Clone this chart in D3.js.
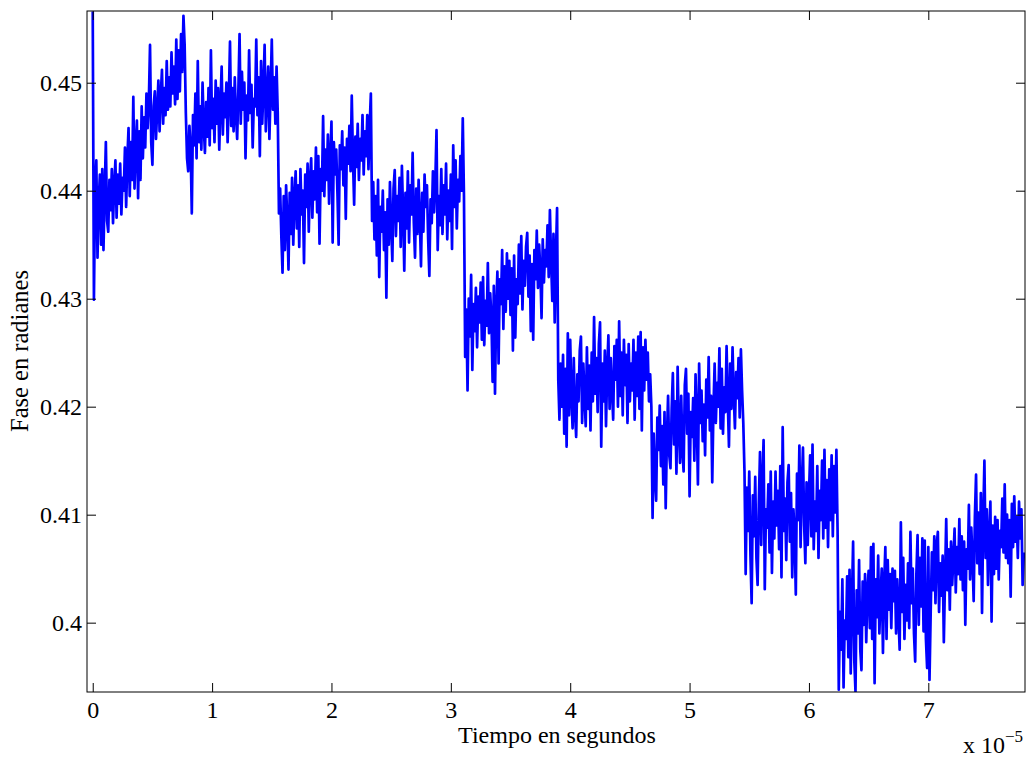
<!DOCTYPE html>
<html>
<head>
<meta charset="utf-8">
<script src="https://cdn.jsdelivr.net/npm/d3@7"></script>
<style>
  body { margin: 0; background: #fff; }
  text { font-family: "Liberation Serif", "Times New Roman", serif; fill: #000; }
</style>
</head>
<body>
<div id="chart"></div>
<script>
// sample step (in units of 1e-5 s)
const dt = 0.01;

// phase samples, one array per step of the signal
const escalon1 = [
  0.4566, 0.4299, 0.4402, 0.4428, 0.4338, 0.4390, 0.4415, 0.4350, 0.4420, 0.4345, 0.4398, 0.4445, 0.4372,
  0.4362, 0.4410, 0.4382, 0.4420, 0.4370, 0.4405, 0.4428, 0.4375, 0.4415, 0.4388, 0.4425, 0.4378, 0.4412,
  0.4400, 0.4440, 0.4385, 0.4430, 0.4458, 0.4395, 0.4445, 0.4410, 0.4487, 0.4402, 0.4440, 0.4465, 0.4393,
  0.4455, 0.4410, 0.4478, 0.4430, 0.4468, 0.4440, 0.4490, 0.4458, 0.4482, 0.4535, 0.4445, 0.4424, 0.4478,
  0.4492, 0.4448, 0.4475, 0.4502, 0.4455, 0.4488, 0.4512, 0.4462, 0.4495, 0.4470, 0.4520, 0.4475, 0.4505,
  0.4478, 0.4528, 0.4490, 0.4515, 0.4480, 0.4540, 0.4485, 0.4530, 0.4492, 0.4545, 0.4510, 0.4562, 0.4535];
const escalon2 = [
  0.4472, 0.4430, 0.4418, 0.4460, 0.4440, 0.4379, 0.4470, 0.4442, 0.4490, 0.4430, 0.4520, 0.4445, 0.4478,
  0.4438, 0.4500, 0.4460, 0.4435, 0.4482, 0.4450, 0.4495, 0.4442, 0.4530, 0.4458, 0.4485, 0.4445, 0.4502,
  0.4462, 0.4495, 0.4438, 0.4480, 0.4515, 0.4452, 0.4490, 0.4468, 0.4500, 0.4445, 0.4485, 0.4538, 0.4460,
  0.4495, 0.4455, 0.4505, 0.4470, 0.4448, 0.4492, 0.4545, 0.4462, 0.4510, 0.4475, 0.4500, 0.4430, 0.4488,
  0.4465, 0.4530, 0.4472, 0.4498, 0.4440, 0.4485, 0.4478, 0.4540, 0.4470, 0.4505, 0.4432, 0.4520, 0.4462,
  0.4495, 0.4535, 0.4455, 0.4488, 0.4515, 0.4448, 0.4492, 0.4540, 0.4475, 0.4505, 0.4462, 0.4515, 0.4472];
const escalon3 = [
  0.4379, 0.4402, 0.4358, 0.4324, 0.4395, 0.4345, 0.4405, 0.4372, 0.4327, 0.4398, 0.4360, 0.4412, 0.4350,
  0.4392, 0.4418, 0.4365, 0.4405, 0.4348, 0.4420, 0.4378, 0.4400, 0.4333, 0.4415, 0.4385, 0.4425, 0.4362,
  0.4410, 0.4430, 0.4375, 0.4418, 0.4392, 0.4440, 0.4380, 0.4432, 0.4351, 0.4420, 0.4400, 0.4469, 0.4395,
  0.4438, 0.4410, 0.4452, 0.4388, 0.4430, 0.4464, 0.4352, 0.4445, 0.4415, 0.4438, 0.4398, 0.4350, 0.4442,
  0.4420, 0.4455, 0.4405, 0.4440, 0.4374, 0.4448, 0.4425, 0.4460, 0.4418, 0.4488, 0.4430, 0.4387, 0.4450,
  0.4422, 0.4462, 0.4410, 0.4448, 0.4428, 0.4470, 0.4415, 0.4455, 0.4432, 0.4470, 0.4420, 0.4460, 0.4490];
const escalon4 = [
  0.4372, 0.4408, 0.4355, 0.4395, 0.4340, 0.4410, 0.4320, 0.4385, 0.4362, 0.4400, 0.4345, 0.4380, 0.4301,
  0.4392, 0.4350, 0.4408, 0.4368, 0.4335, 0.4402, 0.4419, 0.4358, 0.4395, 0.4372, 0.4412, 0.4348, 0.4423,
  0.4380, 0.4326, 0.4398, 0.4365, 0.4418, 0.4352, 0.4405, 0.4378, 0.4435, 0.4370, 0.4338, 0.4402, 0.4360,
  0.4410, 0.4375, 0.4330, 0.4398, 0.4362, 0.4415, 0.4385, 0.4405, 0.4355, 0.4321, 0.4392, 0.4370, 0.4418,
  0.4380, 0.4408, 0.4456, 0.4345, 0.4395, 0.4368, 0.4420, 0.4360, 0.4405, 0.4378, 0.4425, 0.4355, 0.4400,
  0.4372, 0.4415, 0.4346, 0.4442, 0.4385, 0.4428, 0.4365, 0.4410, 0.4390, 0.4432, 0.4400, 0.4467, 0.4395];
const escalon5 = [
  0.4246, 0.4290, 0.4215, 0.4300, 0.4265, 0.4322, 0.4234, 0.4295, 0.4270, 0.4310, 0.4255, 0.4302, 0.4278,
  0.4315, 0.4262, 0.4320, 0.4257, 0.4298, 0.4275, 0.4333, 0.4268, 0.4305, 0.4282, 0.4223, 0.4312, 0.4212,
  0.4290, 0.4325, 0.4240, 0.4318, 0.4295, 0.4345, 0.4272, 0.4330, 0.4288, 0.4342, 0.4300, 0.4335, 0.4285,
  0.4328, 0.4252, 0.4340, 0.4264, 0.4318, 0.4295, 0.4350, 0.4305, 0.4358, 0.4290, 0.4335, 0.4312, 0.4348,
  0.4361, 0.4302, 0.4340, 0.4270, 0.4332, 0.4262, 0.4345, 0.4318, 0.4363, 0.4310, 0.4350, 0.4325, 0.4282,
  0.4355, 0.4315, 0.4345, 0.4330, 0.4368, 0.4320, 0.4382, 0.4335, 0.4298, 0.4360, 0.4278, 0.4340, 0.4384];
const escalon6 = [
  0.4225, 0.4188, 0.4240, 0.4200, 0.4248, 0.4175, 0.4235, 0.4163, 0.4268, 0.4192, 0.4262, 0.4210, 0.4180,
  0.4245, 0.4195, 0.4172, 0.4230, 0.4205, 0.4252, 0.4265, 0.4185, 0.4240, 0.4210, 0.4182, 0.4255, 0.4198,
  0.4238, 0.4178, 0.4250, 0.4205, 0.4283, 0.4212, 0.4245, 0.4195, 0.4258, 0.4278, 0.4163, 0.4240, 0.4205,
  0.4252, 0.4182, 0.4235, 0.4266, 0.4198, 0.4245, 0.4215, 0.4188, 0.4256, 0.4225, 0.4262, 0.4200, 0.4279,
  0.4210, 0.4250, 0.4192, 0.4262, 0.4220, 0.4248, 0.4185, 0.4258, 0.4205, 0.4240, 0.4215, 0.4262, 0.4188,
  0.4250, 0.4210, 0.4265, 0.4198, 0.4269, 0.4178, 0.4255, 0.4215, 0.4262, 0.4225, 0.4250, 0.4205, 0.4230];
const escalon7 = [
  0.4200, 0.4097, 0.4175, 0.4135, 0.4113, 0.4190, 0.4160, 0.4201, 0.4145, 0.4182, 0.4128, 0.4195, 0.4106,
  0.4170, 0.4210, 0.4155, 0.4143, 0.4198, 0.4231, 0.4165, 0.4205, 0.4138, 0.4237, 0.4182, 0.4148, 0.4210,
  0.4160, 0.4140, 0.4220, 0.4235, 0.4175, 0.4212, 0.4117, 0.4195, 0.4172, 0.4208, 0.4150, 0.4230, 0.4190,
  0.4128, 0.4240, 0.4185, 0.4215, 0.4168, 0.4202, 0.4155, 0.4225, 0.4190, 0.4246, 0.4178, 0.4210, 0.4130,
  0.4198, 0.4240, 0.4185, 0.4222, 0.4200, 0.4254, 0.4180, 0.4235, 0.4175, 0.4218, 0.4195, 0.4256, 0.4205,
  0.4163, 0.4240, 0.4198, 0.4255, 0.4210, 0.4180, 0.4232, 0.4208, 0.4245, 0.4190, 0.4253, 0.4215, 0.4185];
const escalon8 = [
  0.4140, 0.4045, 0.4125, 0.4085, 0.4140, 0.4062, 0.4018, 0.4118, 0.4080, 0.4135, 0.4060, 0.4035, 0.4110,
  0.4158, 0.4072, 0.4130, 0.4169, 0.4031, 0.4105, 0.4088, 0.4128, 0.4065, 0.4140, 0.4046, 0.4112, 0.4078,
  0.4140, 0.4090, 0.4122, 0.4068, 0.4145, 0.4042, 0.4181, 0.4085, 0.4115, 0.4058, 0.4130, 0.4146, 0.4075,
  0.4120, 0.4042, 0.4105, 0.4082, 0.4026, 0.4138, 0.4095, 0.4164, 0.4070, 0.4125, 0.4162, 0.4090, 0.4055,
  0.4130, 0.4072, 0.4118, 0.4155, 0.4080, 0.4165, 0.4068, 0.4112, 0.4085, 0.4145, 0.4060, 0.4122, 0.4095,
  0.4150, 0.4078, 0.4160, 0.4088, 0.4132, 0.4070, 0.4142, 0.4095, 0.4155, 0.4080, 0.4145, 0.4102, 0.4160];
const escalon9 = [
  0.4085, 0.3938, 0.4010, 0.3975, 0.4040, 0.3940, 0.4002, 0.3985, 0.4043, 0.3968, 0.4049, 0.3953, 0.4020,
  0.4075, 0.3965, 0.3936, 0.4030, 0.3990, 0.4058, 0.3975, 0.3956, 0.4038, 0.3998, 0.4045, 0.3982, 0.4030,
  0.4048, 0.3995, 0.4070, 0.3985, 0.4073, 0.3944, 0.4040, 0.4005, 0.4062, 0.3990, 0.4025, 0.4050, 0.3972,
  0.4035, 0.4070, 0.3985, 0.4058, 0.4012, 0.4045, 0.3995, 0.4050, 0.4020, 0.4048, 0.3990, 0.4040, 0.4005,
  0.3975, 0.4093, 0.4010, 0.4060, 0.3985, 0.4035, 0.4002, 0.4055, 0.3995, 0.4084, 0.4018, 0.4050, 0.3990,
  0.3964, 0.4045, 0.4081, 0.3998, 0.4060, 0.4015, 0.4078, 0.3992, 0.4076, 0.3985, 0.3958, 0.4070, 0.3947,
  0.4010, 0.4065, 0.4030, 0.4080, 0.4018, 0.4072, 0.4084, 0.4010, 0.4055, 0.4025, 0.4062, 0.3982, 0.4040,
  0.4096, 0.4030, 0.4068, 0.4012, 0.4075, 0.4035, 0.4060, 0.4087, 0.4028, 0.4070, 0.4045, 0.4096, 0.4040,
  0.4080, 0.4030, 0.4075, 0.3998, 0.4068, 0.4050, 0.4109, 0.4040, 0.4088, 0.4060, 0.4020, 0.4098, 0.4137,
  0.4055, 0.4102, 0.4045, 0.4120, 0.4009, 0.4095, 0.4150, 0.4060, 0.4105, 0.4035, 0.4080, 0.4112, 0.4001,
  0.4090, 0.4045, 0.4098, 0.4050, 0.4095, 0.4040, 0.4085, 0.4070, 0.4115, 0.4065, 0.4128, 0.4060, 0.4100,
  0.4055, 0.4095, 0.4024, 0.4110, 0.4070, 0.4117, 0.4075, 0.4098, 0.4060, 0.4112, 0.4078, 0.4105, 0.4035,
  0.4065];

const xTicks = [0, 1, 2, 3, 4, 5, 6, 7];
const yTicks = [0.40, 0.41, 0.42, 0.43, 0.44, 0.45];

const fase = [].concat(escalon1, escalon2, escalon3, escalon4, escalon5,
  escalon6, escalon7, escalon8, escalon9);
const data = fase.map((v, i) => ({ t: i * dt, v: v }));

const W = 1029, H = 760;
const margin = { top: 11, right: 4, bottom: 68, left: 87 };
const width = W - margin.left - margin.right;
const height = H - margin.top - margin.bottom;

const root = d3.select("#chart").append("svg")
  .attr("width", W)
  .attr("height", H);

const svg = root.append("g")
  .attr("transform", `translate(${margin.left},${margin.top})`);

const x = d3.scaleLinear().domain([-0.048, 7.81]).range([0, width]);
const y = d3.scaleLinear().domain([0.39358, 0.45664]).range([height, 0]);

svg.append("clipPath").attr("id", "clip")
  .append("rect").attr("width", width).attr("height", height);

const line = d3.line()
  .x(d => x(d.t))
  .y(d => y(d.v));

svg.append("path")
  .datum(data)
  .attr("clip-path", "url(#clip)")
  .attr("fill", "none")
  .attr("stroke", "#0000ff")
  .attr("stroke-width", 2.7)
  .attr("stroke-linejoin", "round")
  .attr("d", line);

// Axes (MATLAB style: ticks inward on all four sides)
const tk = 9;
const axB = svg.append("g")
  .attr("transform", `translate(0,${height})`)
  .call(d3.axisBottom(x).tickValues(xTicks).tickSize(-tk).tickPadding(9).tickFormat(d3.format("d")));
const axT = svg.append("g")
  .call(d3.axisTop(x).tickValues(xTicks).tickSize(-tk).tickFormat(""));
const axL = svg.append("g")
  .call(d3.axisLeft(y).tickValues(yTicks).tickSize(-tk).tickPadding(5).tickFormat(d => d3.format(".2~f")(d)));
const axR = svg.append("g")
  .attr("transform", `translate(${width},0)`)
  .call(d3.axisRight(y).tickValues(yTicks).tickSize(-tk).tickFormat(""));

[axB, axT, axL, axR].forEach(a => {
  a.select(".domain").remove();
  a.selectAll("line").attr("stroke", "#000");
  a.selectAll("text").attr("font-size", "24px").attr("font-family", "Liberation Serif");
});

svg.append("rect")
  .attr("width", width)
  .attr("height", height)
  .attr("fill", "none")
  .attr("stroke", "#000")
  .attr("stroke-width", 1);

// Labels
root.append("text")
  .attr("x", 557)
  .attr("y", 743)
  .attr("text-anchor", "middle")
  .attr("font-size", "24px")
  .text("Tiempo en segundos");

root.append("text")
  .attr("transform", "translate(28,351) rotate(-90)")
  .attr("text-anchor", "middle")
  .attr("font-size", "24.5px")
  .text("Fase en radianes");

const exp = root.append("text")
  .attr("x", 963)
  .attr("y", 753)
  .attr("font-size", "24px");
exp.append("tspan").text("x 10");
exp.append("tspan").attr("dy", -11).attr("font-size", "17px").text("\u22125");
</script>
</body>
</html>
